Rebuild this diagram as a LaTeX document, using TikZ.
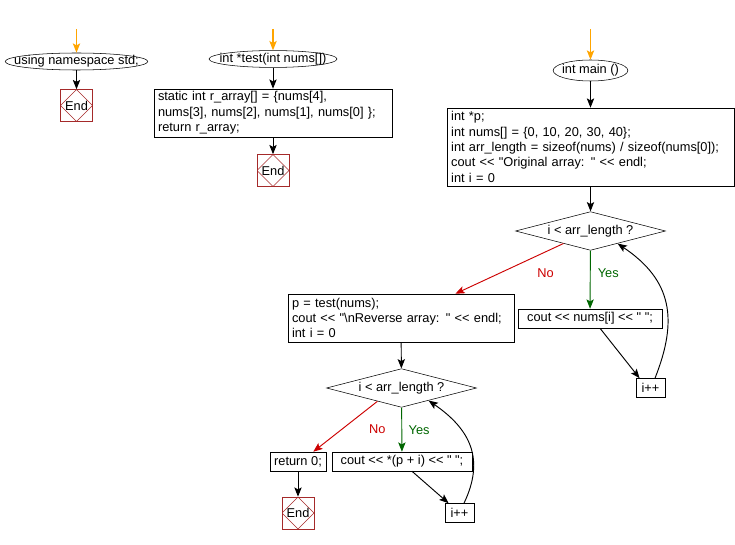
\documentclass[tikz,border=0pt]{standalone}
\usetikzlibrary{arrows.meta,positioning,calc,shapes.geometric}
\font\codefont="Liberation Sans" at 9.6pt
\definecolor{flowOrange}{HTML}{FFA500}
\definecolor{flowRed}{HTML}{CC0000}
\definecolor{flowGreen}{HTML}{006600}
\definecolor{endRed}{HTML}{A52A2A}
\tikzset{
  term/.style={draw, ellipse, font=\codefont, inner sep=0pt},
  box/.style={draw, align=left, font={\codefont\baselineskip=11.5pt}, inner xsep=3pt,
              inner ysep=1pt, text width=#1},
  small/.style={draw, font=\codefont, inner xsep=2.5pt, inner ysep=0pt,
                minimum height=14.25pt, minimum width=#1},
  small/.default=20pt,
  decide/.style={draw, diamond, aspect=3.8, inner sep=0pt, font=\codefont,
                 minimum width=112.5pt, minimum height=29pt},
  stop/.style={draw=endRed, minimum size=24pt, inner sep=0pt, font=\codefont,
               path picture={\draw[endRed, line width=0.4pt] (path picture bounding box.north)
                 -- (path picture bounding box.east) -- (path picture bounding box.south)
                 -- (path picture bounding box.west) -- cycle;}},
  arr/.style={-{Stealth[length=7pt, width=5.5pt, inset=1.5pt]}, line width=0.7pt},
  entry/.style={arr, flowOrange, line width=0.9pt},
  yesarr/.style={arr, flowGreen},
  noarr/.style={arr, flowRed},
  yeslbl/.style={font=\codefont, text=flowGreen},
  nolbl/.style={font=\codefont, text=flowRed},
}
\begin{document}
\begin{tikzpicture}[x=0.75pt, y=-0.75pt]
  \useasboundingbox (0,0) rectangle (735,545);
  \coordinate (in1) at (76.5,29);
  \coordinate (in2) at (273,29);
  \coordinate (in3) at (590.5,29);
  \node[term, minimum width=107pt, minimum height=12.75pt] (ns) at (76.5,61.5)
    {\makebox[0pt]{using namespace std;}};
  \node[stop] (end1) at (76.5,105.5) {End};
  \node[term, minimum width=96pt, minimum height=12pt] (test) at (273,59)
    {\makebox[0pt]{int *test(int nums[])}};
  \node[box=172.5pt, minimum height=36pt] (rarr) at (273,113)
    {static int r\_array[] = \{nums[4],\\nums[3], nums[2], nums[1], nums[0] \};\\return r\_array;};
  \node[stop] (end2) at (273,170.5) {End};
  \node[term, minimum width=56pt, minimum height=15.75pt] (main) at (590.5,70.5)
    {\makebox[0pt]{int main ()}};
  \node[box=209pt, minimum height=58.5pt] (init) at (590.5,147)
    {int *p;\\int nums[] = \{0, 10, 20, 30, 40\};\\int arr\_length = sizeof(nums) / sizeof(nums[0]);\\
     cout << "Original array: " << endl;\\int i = 0};
  \node[decide] (loop1) at (590.5,231) {i < arr\_length ?};
  \node[small=108pt] (print1) at (590,318.5) {cout << nums[i] << " ";};
  \node[small=22pt] (inc1) at (650.5,388) {i++};
  \node[box=163.5pt, minimum height=36pt] (rev) at (401,318)
    {p = test(nums);\\cout << "\textbackslash nReverse array: " << endl;\\int i = 0};
  \node[decide] (loop2) at (401.5,388) {i < arr\_length ?};
  \node[small=42pt] (ret) at (298,461.5) {return 0;};
  \node[small=105pt] (print2) at (402,461.5) {cout << *(p + i) << " ";};
  \node[small=22pt] (inc2) at (459.5,513) {i++};
  \node[stop] (end3) at (298,513) {End};
  \coordinate (up1) at ($(inc1.north)!0.3!(inc1.north east)$);
  \coordinate (back1) at ($(loop1.south)!0.36!(loop1.east)$);
  \coordinate (up2) at ($(inc2.north)!0.3!(inc2.north east)$);
  \coordinate (back2) at ($(loop2.south)!0.36!(loop2.east)$);
  \draw[entry] (in1) -- (ns);
  \draw[arr] (ns) -- (end1);
  \draw[entry] (in2) -- (test);
  \draw[arr] (test) -- (rarr);
  \draw[arr] (rarr) -- (end2);
  \draw[entry] (in3) -- (main);
  \draw[arr] (main) -- (init);
  \draw[arr] (init) -- (loop1);
  \draw[yesarr] (loop1) -- node[yeslbl, pos=0.39, xshift=13.5pt] (yes1) {Yes} (print1);
  \draw[noarr] ($(loop1.south)!0.36!(loop1.west)$) -- node[nolbl, pos=0.24, xshift=6pt,
    yshift=-13pt] (no1) {No} ($(rev.north west)!0.74!(rev.north east)$);
  \draw[arr] ([xshift=7.5pt]print1.south) -- ([xshift=3pt]inc1.north west);
  \draw[arr] (up1) .. controls ($(up1)+(23,-58)$) and ($(back1)+(55,37)$) .. (back1);
  \draw[arr] (rev) -- (loop2);
  \draw[yesarr] (loop2) -- node[yeslbl, pos=0.52, xshift=13pt] (yes2) {Yes} (print2);
  \draw[noarr] ($(loop2.south)!0.32!(loop2.west)$) -- node[nolbl, pos=0.21, xshift=10pt,
    yshift=-13.3pt] (no2) {No} ($(ret.north west)!0.77!(ret.north east)$);
  \draw[arr] (ret) -- (end3);
  \draw[arr] ([xshift=7.5pt]print2.south) -- ([xshift=3pt]inc2.north west);
  \draw[arr] (up2) .. controls ($(up2)+(21,-44)$) and ($(back2)+(42,29)$) .. (back2);
\end{tikzpicture}
\end{document}
